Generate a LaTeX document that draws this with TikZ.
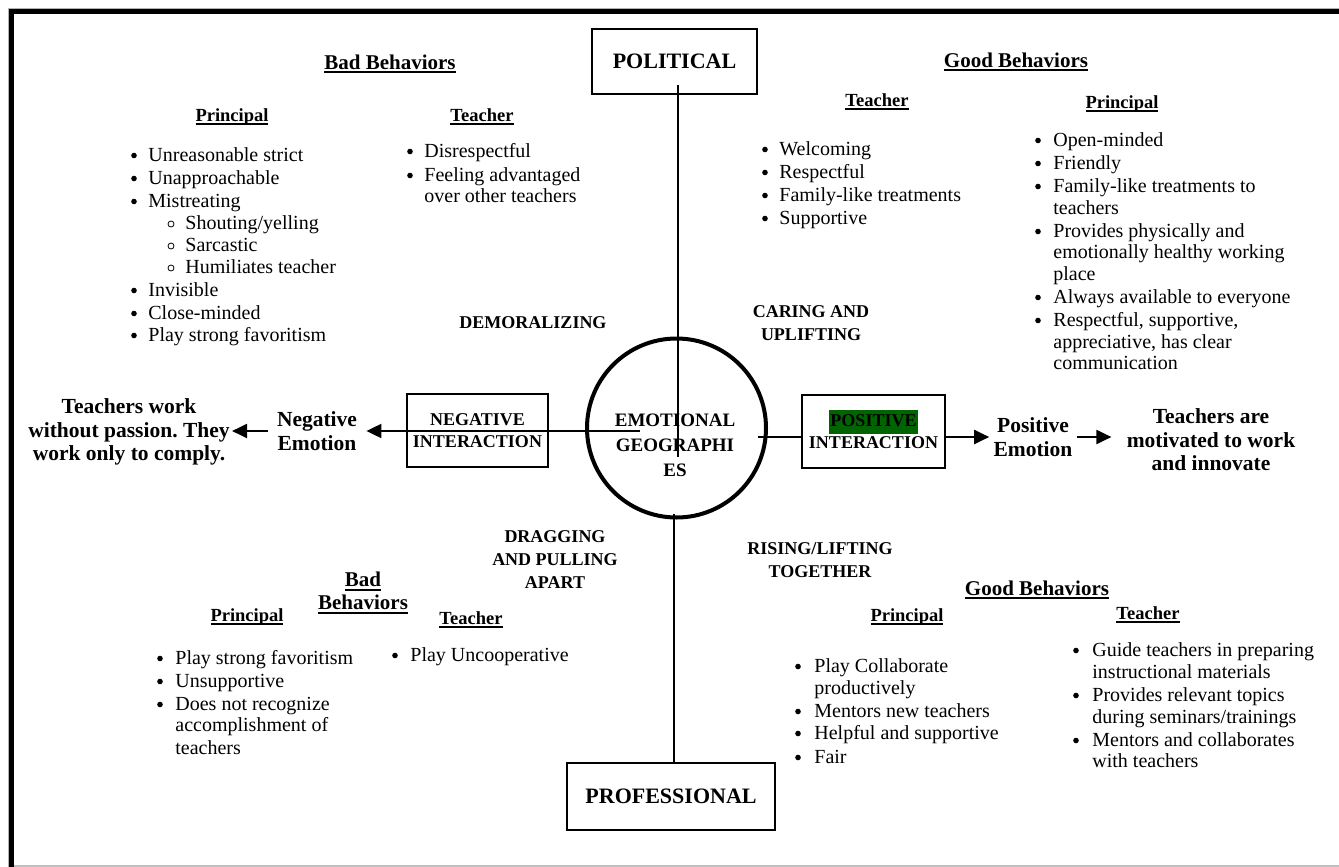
\documentclass[tikz,border=0pt]{standalone}
\usepackage{fontspec}
\setmainfont{Liberation Serif}
\usetikzlibrary{arrows.meta}
\definecolor{hlgreen}{RGB}{0,100,0}
\frenchspacing
\newcommand\wul[1]{\leavevmode\setbox0\hbox{#1}\rlap{\rule[-1.8pt]{\wd0}{0.7pt}}\box0}
% bullet item: name, bullet x, text x, baseline y, text
\newcommand\bli[5]{\node[dotb] (#1d) at (#2,#4-6) {};\node[bdy] (#1) at (#3,#4) {#5};}
% sub item (open circle)
\newcommand\sli[5]{\node[doto] (#1d) at (#2,#4-5.5) {};\node[bdy] (#1) at (#3,#4) {#5};}
% continuation line
\newcommand\cli[4]{\node[bdy] (#1) at (#2,#3) {#4};}
\begin{document}
\begin{tikzpicture}[x=0.5pt,y=-0.5pt,
  ln/.style={line width=1pt},
  arr/.style={line width=1pt,-{Triangle[length=7.5pt,width=7pt]}},
  bigbox/.style={draw,line width=1pt,rectangle,inner sep=0,font=\bfseries\fontsize{11}{13}\selectfont},
  ibox/.style={draw,line width=1pt,rectangle,minimum height=36.5pt,align=center,inner sep=0,font=\bfseries\fontsize{9}{11}\selectfont},
  lbl/.style={align=center,inner sep=0,font=\bfseries\fontsize{10.75}{11.75}\selectfont},
  capl/.style={align=center,inner sep=0,font=\bfseries\fontsize{9}{11.5}\selectfont},
  hd/.style={anchor=base,inner sep=0,font=\bfseries\fontsize{10.5}{11.5}\selectfont},
  subh/.style={anchor=base,inner sep=0,font=\bfseries\fontsize{9.25}{11}\selectfont},
  bdy/.style={anchor=base west,inner sep=0,font=\fontsize{10}{12}\selectfont},
  dotb/.style={circle,fill=black,minimum size=2.8pt,inner sep=0},
  doto/.style={circle,draw=black,line width=0.4pt,minimum size=3pt,inner sep=0}]
\useasboundingbox (0,0) rectangle (1339,867);
% frame
\draw[gray!60,line width=0.5pt] (8,867) -- (8,8) -- (1339,8);
\draw[line width=2.5pt,line join=miter] (11.5,867) -- (11.5,11.5) -- (1339,11.5);
\draw[gray!50,line width=0.75pt] (14,866) -- (1339,866);

% main boxes
\node[bigbox,minimum width=82.5pt,minimum height=32.5pt] (pol) at (674.5,61.5) {POLITICAL};
\node[bigbox,minimum width=104pt,minimum height=33.5pt] (prof) at (671,796.5) {PROFESSIONAL};
\node[circle,draw,line width=2pt,minimum size=89.5pt,inner sep=0] (eg) at (676.5,428) {};
\node[align=center,inner sep=0,font=\bfseries\fontsize{9.5}{12.5}\selectfont] (ct) at (675,445.5) {EMOTIONAL\\GEOGRAPHI\\ES};

\node[ibox,minimum width=70.5pt] (neg) at (477.5,430.5) {NEGATIVE\\INTERACTION};
\node[ibox,minimum width=71.5pt] (pos) at (873.5,431.5) {\vphantom{POSITIVE}\smash{\setlength\fboxsep{0.5pt}\colorbox{hlgreen}{\strut POSITIVE}}\\INTERACTION};

\node[lbl,inner xsep=4.5pt] (ne) at (317,431) {Negative\\Emotion};
\node[lbl,inner xsep=1pt] (tw) at (129,432) {Teachers work\\without passion. They\\work only to comply.};
\node[lbl,inner xsep=2pt] (pe) at (1033,437) {Positive\\Emotion};
\node[lbl,inner xsep=7.5pt] (tm) at (1211,440) {Teachers are\\motivated to work\\and innovate};

% connectors
\coordinate (vt1) at (678,85);
\coordinate (vt2) at (678,457);
\draw[ln] (vt1) -- (vt2);
\coordinate (vb) at (674,514);
\draw[ln] (vb) -- (vb |- prof.north);
\coordinate (hl) at (640,431);
\draw[arr] (hl) -- (ne.east |- hl);
\draw[arr] (ne.west |- hl) -- (tw.east |- hl);
\coordinate (hr) at (758,437);
\draw[ln] (hr) -- (hr -| pos.west);
\draw[arr] (pos.east |- hr) -- (pe.west |- hr);
\draw[arr] (pe.east |- hr) -- (tm.west |- hr);

% quadrant captions
\node[capl] (dem) at (533,323) {DEMORALIZING};
\node[capl] (car) at (811,323) {CARING AND\\UPLIFTING};
\node[capl] (drag) at (555,560) {DRAGGING\\AND PULLING\\APART};
\node[capl] (ris) at (820,560) {RISING/LIFTING\\TOGETHER};

% headings
\node[hd] (bbt) at (390,69) {\wul{Bad Behaviors}};
\node[hd] (gbt) at (1016,67) {\wul{Good Behaviors}};
\node[align=center,inner sep=0,font=\bfseries\fontsize{10.5}{11.5}\selectfont] (bbb) at (363,593) {\wul{Bad}\\\wul{Behaviors}};
\node[hd] (gbb) at (1037,595) {\wul{Good Behaviors}};

\node[subh] (tlph) at (232,121) {\wul{Principal}};
\node[subh] (tlth) at (482,121) {\wul{Teacher}};
\node[subh] (trth) at (877,106) {\wul{Teacher}};
\node[subh] (trph) at (1122,108) {\wul{Principal}};
\node[subh] (blph) at (247,621) {\wul{Principal}};
\node[subh] (blth) at (471,624) {\wul{Teacher}};
\node[subh] (brph) at (907,621) {\wul{Principal}};
\node[subh] (brth) at (1148,619) {\wul{Teacher}};

% top-left principal
\bli{tlp1}{134}{148}{161.5}{Unreasonable strict}
\bli{tlp2}{134}{148}{184.5}{Unapproachable}
\bli{tlp3}{134}{148}{207.5}{Mistreating}
\sli{tlp4}{171}{185}{229.5}{Shouting/yelling}
\sli{tlp5}{171}{185}{251.5}{Sarcastic}
\sli{tlp6}{171}{185}{273.5}{Humiliates teacher}
\bli{tlp7}{134}{148}{296.5}{Invisible}
\bli{tlp8}{134}{148}{319.5}{Close-minded}
\bli{tlp9}{134}{148}{341.5}{Play strong favoritism}
% top-left teacher
\bli{tlt1}{410}{424}{157.5}{Disrespectful}
\bli{tlt2}{410}{424}{181.5}{Feeling advantaged}
\cli{tlt3}{424}{202.5}{over other teachers}
% top-right teacher
\bli{trt1}{765}{779}{155.5}{Welcoming}
\bli{trt2}{765}{779}{178.5}{Respectful}
\bli{trt3}{765}{779}{201.5}{Family-like treatments}
\bli{trt4}{765}{779}{224.5}{Supportive}
% top-right principal
\bli{trp1}{1038}{1053}{146.5}{Open-minded}
\bli{trp2}{1038}{1053}{169.5}{Friendly}
\bli{trp3}{1038}{1053}{192.5}{Family-like treatments to}
\cli{trp4}{1053}{214.5}{teachers}
\bli{trp5}{1038}{1053}{237.5}{Provides physically and}
\cli{trp6}{1053}{258.5}{emotionally healthy working}
\cli{trp7}{1053}{280.5}{place}
\bli{trp8}{1038}{1053}{303.5}{Always available to everyone}
\bli{trp9}{1038}{1053}{326.5}{Respectful, supportive,}
\cli{trp10}{1053}{348.5}{appreciative, has clear}
\cli{trp11}{1053}{369.5}{communication}
% bottom-left principal
\bli{blp1}{160}{175}{664.5}{Play strong favoritism}
\bli{blp2}{160}{175}{687.5}{Unsupportive}
\bli{blp3}{160}{175}{710.5}{Does not recognize}
\cli{blp4}{175}{731.5}{accomplishment of}
\cli{blp5}{175}{754.5}{teachers}
% bottom-left teacher
\bli{blt1}{395}{410}{661.5}{Play Uncooperative}
% bottom-right principal
\bli{brp1}{798}{814}{672.5}{Play Collaborate}
\cli{brp2}{814}{694.5}{productively}
\bli{brp3}{798}{814}{717.5}{Mentors new teachers}
\bli{brp4}{798}{814}{739.5}{Helpful and supportive}
\bli{brp5}{798}{814}{763.5}{Fair}
% bottom-right teacher
\bli{brt1}{1076}{1092}{656.5}{Guide teachers in preparing}
\cli{brt2}{1092}{678.5}{instructional materials}
\bli{brt3}{1076}{1092}{701.5}{Provides relevant topics}
\cli{brt4}{1092}{723.5}{during seminars/trainings}
\bli{brt5}{1076}{1092}{746.5}{Mentors and collaborates}
\cli{brt6}{1092}{767.5}{with teachers}
\end{tikzpicture}
\end{document}
